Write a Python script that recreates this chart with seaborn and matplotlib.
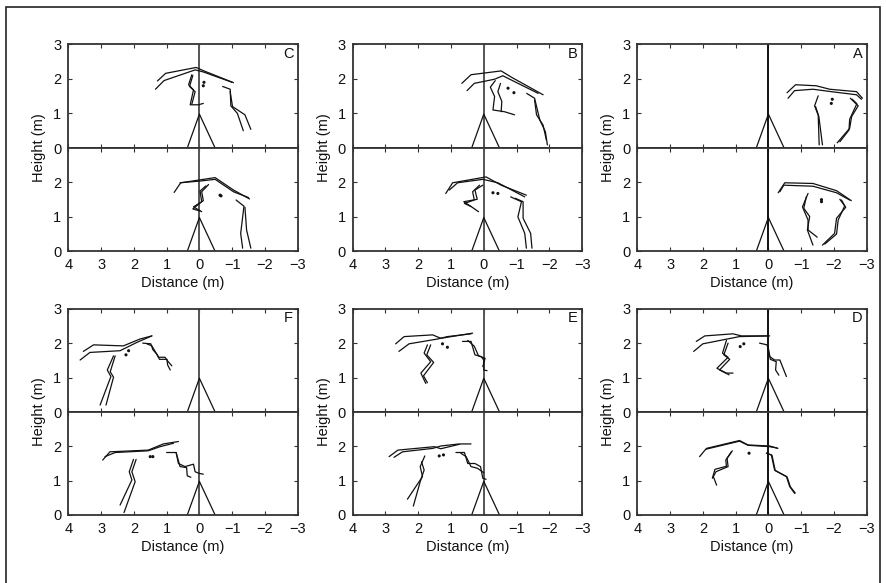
import matplotlib
matplotlib.use("Agg")
import matplotlib.pyplot as plt
import seaborn as sns
import pandas as pd
from matplotlib.patches import Rectangle

# ---------------- data (metres) ----------------
PANEL_LETTERS = ["C", "B", "A", "F", "E", "D"]
X_TICKS = [4, 3, 2, 1, 0, -1, -2, -3]
Y_TICKS_TOP = [0, 1, 2, 3]
Y_TICKS_BOTTOM = [0, 1, 2]
TRIANGLE_X = [0.37, 0.0, -0.48]
TRIANGLE_Y = [0.0, 0.98, 0.0]

# each polyline: (x list, y list)
C_TOP_LINES = [
    ([1.28, 1.03, 0.10, -0.14, -1.04], [1.94, 2.16, 2.33, 2.23, 1.89]),
    ([1.34, 1.08, 0.13, -0.12, -1.00], [1.70, 1.95, 2.26, 2.20, 1.90]),
    ([0.23, 0.33, 0.18, 0.28, 0.03, -0.12], [2.12, 1.83, 1.68, 1.25, 1.25, 1.29]),
    ([0.20, 0.30, 0.13, 0.23], [2.10, 1.78, 1.63, 1.27]),
    ([-0.71, -0.94, -0.96, -1.16, -1.34], [1.78, 1.70, 1.22, 1.00, 0.50]),
    ([-0.94, -1.01, -1.39, -1.57], [1.63, 1.20, 0.96, 0.54]),
]
C_TOP_DOTS = ([-0.14, -0.12], [1.90, 1.80])
C_BOT_LINES = [
    ([0.77, 0.57, -0.48, -1.04, -1.53], [1.71, 1.99, 2.14, 1.78, 1.52]),
    ([0.59, -0.02, -0.48, -1.04, -1.50], [1.99, 2.04, 2.09, 1.73, 1.56]),
    ([-0.28, -0.07, -0.12, 0.18, -0.07], [1.94, 1.73, 1.47, 1.29, 1.15]),
    ([-0.20, -0.02, -0.07, 0.20, -0.02], [1.90, 1.75, 1.44, 1.23, 1.17]),
    ([-1.12, -1.36, -1.26, -1.32], [1.49, 1.31, 0.52, 0.09]),
    ([-1.39, -1.44, -1.57], [1.28, 0.62, 0.09]),
]
C_BOT_DOTS = ([-0.63, -0.66], [1.63, 1.61])

B_TOP_LINES = [
    ([0.67, 0.39, -0.53, -0.84, -1.81], [1.87, 2.12, 2.23, 2.05, 1.54]),
    ([0.51, 0.29, -0.33, -0.58, -1.66], [1.66, 1.87, 1.99, 2.09, 1.58]),
    ([-0.35, -0.20, -0.33, -0.28, -0.63, -0.94], [1.95, 1.76, 1.49, 1.10, 1.05, 0.96]),
    ([-0.51, -0.43, -0.55, -0.53], [1.87, 1.63, 1.35, 1.05]),
    ([-1.31, -1.55, -1.71, -1.88, -1.94], [1.58, 1.44, 0.81, 0.47, 0.09]),
    ([-1.55, -1.61, -1.81, -1.91], [1.39, 0.96, 0.66, 0.23]),
]
B_TOP_DOTS = ([-0.74, -0.92], [1.73, 1.60])
B_BOT_LINES = [
    ([1.16, 0.95, -0.07, -0.53, -1.30], [1.68, 1.99, 2.16, 1.92, 1.63]),
    ([1.05, 0.80, 0.03, -0.43, -1.25], [1.78, 1.99, 2.09, 1.99, 1.58]),
    ([0.03, 0.27, 0.20, 0.61, 0.31, 0.16], [1.92, 1.78, 1.51, 1.44, 1.25, 1.15]),
    ([0.13, 0.34, 0.29, 0.59, 0.39], [1.92, 1.73, 1.49, 1.39, 1.30]),
    ([-0.82, -1.15, -1.04, -1.25, -1.30], [1.58, 1.44, 1.00, 0.52, 0.09]),
    ([-0.96, -1.20, -1.20, -1.43, -1.47], [1.54, 1.44, 0.96, 0.52, 0.09]),
]
B_BOT_DOTS = ([-0.28, -0.43], [1.70, 1.68])

A_TOP_LINES = [
    ([-0.57, -0.83, -1.46, -1.87, -2.69, -2.87], [1.60, 1.83, 1.80, 1.70, 1.63, 1.44]),
    ([-0.60, -0.80, -1.36, -1.92, -2.69, -2.84], [1.44, 1.66, 1.70, 1.63, 1.54, 1.41]),
    ([-1.52, -1.41, -1.52, -1.55], [1.51, 1.22, 0.95, 0.09]),
    ([-1.44, -1.54, -1.65], [1.20, 0.91, 0.09]),
    ([-2.50, -2.74, -2.54, -2.48, -2.10], [1.44, 1.22, 0.91, 0.57, 0.15]),
    ([-2.56, -2.70, -2.48, -2.46, -2.18], [1.41, 1.28, 0.83, 0.52, 0.18]),
]
A_TOP_DOTS = ([-1.95, -1.92], [1.41, 1.29])
A_BOT_LINES = [
    ([-0.30, -0.50, -1.36, -2.08, -2.53], [1.70, 1.99, 1.97, 1.76, 1.47]),
    ([-0.35, -0.47, -1.36, -2.08, -2.48], [1.73, 1.92, 1.89, 1.70, 1.49]),
    ([-1.21, -1.04, -1.21, -1.21, -1.49], [1.68, 1.29, 0.91, 0.62, 0.41]),
    ([-1.16, -1.08, -1.26, -1.19, -1.36], [1.59, 1.25, 1.01, 0.62, 0.18]),
    ([-2.18, -2.36, -2.08, -2.02, -1.65], [1.51, 1.28, 0.96, 0.52, 0.18]),
    ([-2.23, -2.33, -2.13, -2.08, -1.72], [1.49, 1.32, 0.91, 0.50, 0.21]),
]
A_BOT_DOTS = ([-1.62, -1.62], [1.50, 1.44])

F_TOP_LINES = [
    ([3.54, 3.23, 2.32, 1.81, 1.45], [1.76, 1.95, 1.92, 2.12, 2.21]),
    ([3.64, 3.34, 2.42, 1.91, 1.45], [1.51, 1.73, 1.78, 2.02, 2.21]),
    ([2.62, 2.81, 2.70, 3.03], [1.63, 1.22, 1.03, 0.20]),
    ([2.57, 2.72, 2.62, 2.85], [1.63, 1.17, 1.01, 0.20]),
    ([1.73, 1.48, 1.42, 1.28, 1.22, 0.99, 0.97, 0.89], [2.00, 1.98, 1.81, 1.66, 1.53, 1.53, 1.37, 1.22]),
    ([1.60, 1.45, 1.32, 1.25, 1.05, 0.95, 0.84], [1.98, 1.92, 1.71, 1.59, 1.59, 1.46, 1.34]),
]
F_TOP_DOTS = ([2.24, 2.16], [1.66, 1.78])
F_BOT_LINES = [
    ([2.95, 2.73, 1.56, 1.10, 0.64], [1.60, 1.84, 1.89, 2.07, 2.14]),
    ([2.88, 2.57, 1.56, 1.20, 0.79], [1.70, 1.82, 1.87, 1.99, 2.09]),
    ([2.01, 2.14, 2.06, 2.42], [1.62, 1.26, 1.02, 0.29]),
    ([1.93, 2.06, 1.96, 2.30], [1.62, 1.26, 0.97, 0.07]),
    ([1.00, 0.71, 0.64, 0.44, 0.18, 0.13, 0.00, -0.12], [1.82, 1.82, 1.50, 1.41, 1.48, 1.26, 1.21, 1.19]),
    ([0.71, 0.59, 0.39, 0.37, 0.26], [1.82, 1.41, 1.38, 1.14, 1.10]),
]
F_BOT_DOTS = ([1.50, 1.42], [1.70, 1.70])

E_TOP_LINES = [
    ([2.69, 2.43, 1.56, 1.31, 0.34], [1.98, 2.19, 2.24, 2.14, 2.29]),
    ([2.59, 2.28, 1.41, 1.11, 0.39], [1.76, 1.98, 2.12, 2.19, 2.27]),
    ([1.72, 1.82, 1.62, 1.92, 1.77], [1.95, 1.71, 1.46, 1.13, 0.83]),
    ([1.62, 1.74, 1.53, 1.84, 1.72], [1.95, 1.66, 1.44, 1.05, 0.85]),
    ([0.65, 0.39, 0.27, 0.08, 0.00, 0.00, -0.10], [2.05, 2.05, 1.66, 1.61, 1.51, 1.22, 1.20]),
    ([0.49, 0.29, 0.16, -0.04, 0.03], [2.08, 1.91, 1.63, 1.56, 1.32]),
]
E_TOP_DOTS = ([1.26, 1.11], [1.98, 1.88])
E_BOT_LINES = [
    ([2.89, 2.62, 1.51, 1.31, 0.70, 0.39], [1.70, 1.89, 1.99, 1.93, 2.07, 2.07]),
    ([2.74, 2.48, 1.56, 1.31, 0.75], [1.68, 1.84, 1.94, 2.01, 2.07]),
    ([1.80, 1.94, 1.87, 2.33], [1.72, 1.41, 1.12, 0.46]),
    ([1.90, 1.82, 1.94, 2.15], [1.55, 1.31, 0.97, 0.26]),
    ([0.85, 0.59, 0.49, 0.27, 0.10, 0.03, -0.07], [1.82, 1.82, 1.50, 1.50, 1.41, 1.07, 1.04]),
    ([0.70, 0.54, 0.39, 0.19, 0.00], [1.80, 1.70, 1.41, 1.36, 1.23]),
]
E_BOT_DOTS = ([1.36, 1.23], [1.72, 1.75])

D_TOP_LINES = [
    ([2.20, 1.94, 1.08, 0.82, 0.01], [2.05, 2.21, 2.27, 2.21, 2.21]),
    ([2.28, 2.00, 0.88, -0.04], [1.76, 1.98, 2.19, 2.21]),
    ([1.28, 1.40, 1.23, 1.57, 1.28, 1.08], [2.08, 1.71, 1.59, 1.27, 1.13, 1.13]),
    ([1.23, 1.36, 1.18, 1.49, 1.20], [2.00, 1.66, 1.53, 1.22, 1.08]),
    ([0.27, 0.04, -0.04, -0.19, -0.35, -0.45, -0.55], [2.00, 1.95, 1.61, 1.51, 1.51, 1.27, 1.03]),
    ([0.01, -0.06, -0.24, -0.22, -0.32], [1.90, 1.53, 1.46, 1.22, 1.07]),
]
D_TOP_DOTS = ([0.86, 0.75], [1.90, 1.98])
D_BOT_LINES = [
    ([2.10, 1.89, 0.88, 0.62, -0.04, -0.29], [1.70, 1.94, 2.17, 2.04, 2.01, 1.94]),
    ([1.89, 0.88, 0.62, -0.04, -0.27], [1.92, 2.15, 2.03, 1.99, 1.95]),
    ([1.10, 1.26, 1.23, 1.60, 1.68, 1.58], [1.87, 1.65, 1.41, 1.26, 1.12, 0.87]),
    ([1.13, 1.30, 1.28, 1.63, 1.71], [1.84, 1.60, 1.42, 1.33, 1.07]),
    ([0.06, -0.09, -0.19, -0.55, -0.65, -0.80], [1.80, 1.75, 1.31, 1.12, 0.83, 0.63]),
    ([0.06, -0.11, -0.21, -0.57, -0.67, -0.82], [1.80, 1.74, 1.29, 1.11, 0.82, 0.64]),
]
D_BOT_DOTS = ([0.59], [1.80])

PANEL_DATA = [
    (C_TOP_LINES, C_TOP_DOTS, C_BOT_LINES, C_BOT_DOTS),
    (B_TOP_LINES, B_TOP_DOTS, B_BOT_LINES, B_BOT_DOTS),
    (A_TOP_LINES, A_TOP_DOTS, A_BOT_LINES, A_BOT_DOTS),
    (F_TOP_LINES, F_TOP_DOTS, F_BOT_LINES, F_BOT_DOTS),
    (E_TOP_LINES, E_TOP_DOTS, E_BOT_LINES, E_BOT_DOTS),
    (D_TOP_LINES, D_TOP_DOTS, D_BOT_LINES, D_BOT_DOTS),
]

# ---------------- style ----------------
sns.set_theme(style="white")
plt.rcParams["font.family"] = ["Liberation Sans", "DejaVu Sans"]
plt.rcParams["font.size"] = 10.5

W, H = 886, 583
fig = plt.figure(figsize=(W / 100, H / 100), dpi=100)
fig.patch.set_facecolor("white")

# outer frame
fig.patches.append(Rectangle((6 / W, -0.05), (880 - 6) / W, 1.05 - 7 / H,
                             transform=fig.transFigure, fill=False,
                             edgecolor="#222222", linewidth=1.2))

col_left = [68.3, 352.7, 637.3]
ax_w = 229.4
rows = [(44.3, 148.0, 251.3), (308.7, 412.0, 515.0)]

SPINE = "#333333"


def style_axis(ax, yticks):
    ax.set_xlim(4, -3)
    ax.set_ylim(0, 3)
    ax.set_xticks(X_TICKS)
    ax.set_yticks(yticks)
    ax.set_yticklabels([str(t) for t in yticks])
    ax.tick_params(direction="in", length=3, width=0.8, color="#333333",
                   top=True, right=True, bottom=True, left=True,
                   labelsize=10.5, pad=5, labelcolor="#111111")
    for s in ax.spines.values():
        s.set_color(SPINE)
        s.set_linewidth(1.3)
    ax.set_xlabel("")
    ax.set_ylabel("")


def draw_sub(ax, lines, dots, vcolor):
    rows_ = []
    for i, (xs, ys) in enumerate(lines):
        for x, y in zip(xs, ys):
            rows_.append({"x": x, "y": y, "seg": i})
    df = pd.DataFrame(rows_)
    sns.lineplot(data=df, x="x", y="y", units="seg", estimator=None, sort=False,
                 color="#111111", linewidth=0.9, ax=ax, legend=False)
    tri = pd.DataFrame({"x": TRIANGLE_X, "y": TRIANGLE_Y})
    sns.lineplot(data=tri, x="x", y="y", estimator=None, sort=False,
                 color="#111111", linewidth=0.9, ax=ax, legend=False)
    ax.axvline(0, color=vcolor, linewidth=1.4, zorder=1)
    ddf = pd.DataFrame({"x": dots[0], "y": dots[1]})
    sns.scatterplot(data=ddf, x="x", y="y", s=5, color="#111111",
                    edgecolor="none", ax=ax, legend=False)


for p, letter in enumerate(PANEL_LETTERS):
    r, c = divmod(p, 3)
    top_px, mid_px, bot_px = rows[r]
    left = col_left[c] / W
    w = ax_w / W
    ax_top = fig.add_axes([left, 1 - mid_px / H, w, (mid_px - top_px) / H])
    ax_bot = fig.add_axes([left, 1 - bot_px / H, w, (bot_px - mid_px) / H])
    tl, td, bl, bd = PANEL_DATA[p]
    vcolor = "#111111" if c == 2 else "#555555"
    draw_sub(ax_top, tl, td, vcolor)
    draw_sub(ax_bot, bl, bd, vcolor)
    style_axis(ax_top, Y_TICKS_TOP)
    style_axis(ax_bot, Y_TICKS_BOTTOM)
    ax_top.tick_params(labelbottom=False)
    ax_bot.set_xticklabels([("\u2212" + str(-t)) if t < 0 else str(t)
                            for t in X_TICKS])
    ax_top.text(-2.72, 2.72, letter, ha="center", va="center", fontsize=10.5,
                color="#111111")
    ax_bot.set_xlabel("Distance (m)", fontsize=10.5, labelpad=3, color="#111111")
    # shared y label centred on the pair
    fig.text((col_left[c] - 29) / W, 1 - mid_px / H, "Height (m)", rotation=90,
             ha="center", va="center", fontsize=10.5, color="#111111")

fig.savefig("out.png", dpi=100, facecolor="white")
